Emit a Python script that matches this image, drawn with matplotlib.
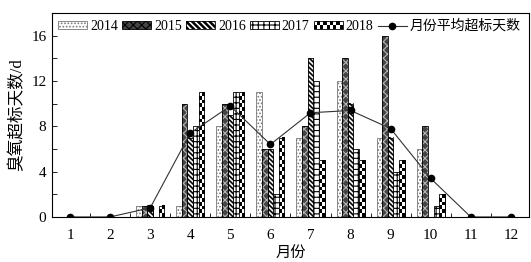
import numpy as np
import matplotlib
matplotlib.use('Agg')
from matplotlib import pyplot as plt
from matplotlib.patches import Rectangle, Patch
from matplotlib.lines import Line2D
from matplotlib.legend_handler import HandlerBase

plt.rcParams['font.family'] = ['Liberation Serif', 'Noto Sans CJK SC']
plt.rcParams['hatch.color'] = 'black'
plt.rcParams['hatch.linewidth'] = 0.8

months = [1, 2, 3, 4, 5, 6, 7, 8, 9, 10, 11, 12]
d2014 = [0, 0, 1, 1, 8, 11, 7, 12, 7, 6, 0, 0]
d2015 = [0, 0, 1, 10, 10, 6, 8, 14, 16, 8, 0, 0]
d2016 = [0, 0, 1, 7, 9, 6, 14, 10, 7, 0, 0, 0]
d2017 = [0, 0, 0, 8, 11, 2, 12, 6, 4, 1, 0, 0]
d2018 = [0, 0, 1, 11, 11, 7, 5, 5, 5, 2, 0, 0]
avg = [0, 0, 0.8, 7.4, 9.8, 6.4, 9.2, 9.4, 7.8, 3.4, 0, 0]


class CheckerHandler(HandlerBase):
    # legend swatch with black/white squares
    def create_artists(self, legend, orig_handle, xdescent, ydescent,
                       width, height, fontsize, trans):
        arts = [Rectangle((-xdescent, -ydescent), width, height, facecolor='white',
                          edgecolor='black', lw=0.6, transform=trans)]
        nc, nr = 9, 2
        cw, ch = width / nc, height / nr
        for i in range(nc):
            for j in range(nr):
                if (i + j) % 2 == 0:
                    arts.append(Rectangle((-xdescent + i * cw, -ydescent + j * ch), cw, ch,
                                          facecolor='black', lw=0, transform=trans))
        return arts


class StripeHandler(HandlerBase):
    # legend swatch with thick "\" stripes
    def create_artists(self, legend, orig_handle, xdescent, ydescent,
                       width, height, fontsize, trans):
        rect = Rectangle((-xdescent, -ydescent), width, height, facecolor='white',
                         edgecolor='none', transform=trans)
        arts = [rect]
        step = 4.2
        k = -3
        while k * step < width + height:
            x0 = -xdescent + k * step
            ln = Line2D([x0, x0 + height], [-ydescent + height, -ydescent],
                        lw=1.8, color='black', transform=trans)
            ln.set_clip_path(rect)
            arts.append(ln)
            k += 1
        arts.append(Rectangle((-xdescent, -ydescent), width, height, fill=False,
                              edgecolor='black', lw=0.6, transform=trans))
        return arts


fig = plt.figure(figsize=(5.31, 2.62), dpi=100)
ax = fig.add_axes([0.098, 0.172, 0.898, 0.778])
ax.set_xlim(0.55, 12.45)
ax.set_ylim(0, 18)

x = np.array(months, dtype=float)
w = 0.14

# pixels per data unit, used to size the image patterns
p0 = ax.transData.transform((0, 0))
p1 = ax.transData.transform((1, 1))
pxx, pxy = p1 - p0

# 2014 - light dots
ax.bar(x - 2 * w, d2014, w, facecolor='white', edgecolor='#777777', hatch='.....', lw=0.6, zorder=2)
# 2015 - dark cross hatch
ax.bar(x - w, d2015, w, facecolor='#444444', edgecolor='#b5b5b5', hatch='xxxx', lw=0, zorder=2)
ax.bar(x - w, d2015, w, fill=False, edgecolor='black', lw=0.6, zorder=3)
# 2016 - thick diagonal stripes
b16 = ax.bar(x, d2016, w, facecolor='white', edgecolor='black', lw=0.6, zorder=2)
for p in b16:
    h = p.get_height()
    if h <= 0:
        continue
    ov = 3
    nr = int(round(h * pxy * ov))
    nc = int(round(p.get_width() * pxx * ov))
    r, c = np.indices((nr, nc))
    img = (((c - r) % 14) < 7).astype(float)
    ax.imshow(img, cmap='binary', extent=(p.get_x(), p.get_x() + p.get_width(), 0, h),
              aspect='auto', interpolation='antialiased', zorder=2.5, vmin=0, vmax=1)
ax.bar(x, d2016, w, fill=False, edgecolor='black', lw=0.6, zorder=3)
# 2017 - grid
ax.bar(x + w, d2017, w, facecolor='white', edgecolor='black', hatch='+++', lw=0.6, zorder=2)
# 2018 - checkerboard
b18 = ax.bar(x + 2 * w, d2018, w, facecolor='white', edgecolor='black', lw=0.6, zorder=2)
for p in b18:
    h = p.get_height()
    if h <= 0:
        continue
    nr = max(1, int(round(h * pxy / 3.8)))
    img = np.indices((nr, 2)).sum(0) % 2
    ax.imshow(img, cmap='binary', extent=(p.get_x(), p.get_x() + p.get_width(), 0, h),
              aspect='auto', interpolation='nearest', zorder=2.5)
ax.bar(x + 2 * w, d2018, w, fill=False, edgecolor='black', lw=0.6, zorder=3)

ax.plot(x, avg, color='#333333', lw=0.8, marker='o', ms=4.5, mfc='black', mec='black', zorder=4)

ax.set_xlim(0.55, 12.45)
ax.set_ylim(0, 18)
ax.set_xticks(months)
ax.set_xticklabels([str(m) for m in months])
ax.set_xticks(np.arange(1.5, 12.5, 1), minor=True)
ax.set_yticks([0, 4, 8, 12, 16])
ax.set_yticks([2, 6, 10, 14], minor=True)
ax.tick_params(axis='x', which='major', length=0, labelsize=11, pad=9)
ax.tick_params(axis='x', which='minor', direction='in', length=3, width=0.6)
ax.tick_params(axis='y', which='both', direction='in', length=3.5, width=0.6, labelsize=11, pad=4)
for s in ax.spines.values():
    s.set_linewidth(0.8)

ax.set_xlabel('月份', fontsize=11, labelpad=3)
ax.set_ylabel('臭氧超标天数/d', fontsize=12, labelpad=4)

handles = [
    Patch(facecolor='white', edgecolor='#777777', hatch='.....', lw=0.6),
    Patch(facecolor='#444444', edgecolor='black', hatch='xxxx', lw=0.6),
    Patch(facecolor='white', edgecolor='black'),
    Patch(facecolor='white', edgecolor='black', hatch='+++', lw=0.6),
    Patch(facecolor='white', edgecolor='black'),
    Line2D([], [], color='#333333', lw=0.8, marker='o', ms=4.5, mfc='black', mec='black'),
]
labels = ['2014', '2015', '2016', '2017', '2018', '月份平均超标天数']
ax.legend(handles, labels, ncol=6, loc='upper right', bbox_to_anchor=(1.0, 1.01),
          frameon=False, fontsize=10, handlelength=2.1, handleheight=0.45,
          handletextpad=0.2, columnspacing=0.3, borderaxespad=0.2,
          handler_map={handles[2]: StripeHandler(), handles[4]: CheckerHandler()})

fig.savefig('out.png', dpi=100)
